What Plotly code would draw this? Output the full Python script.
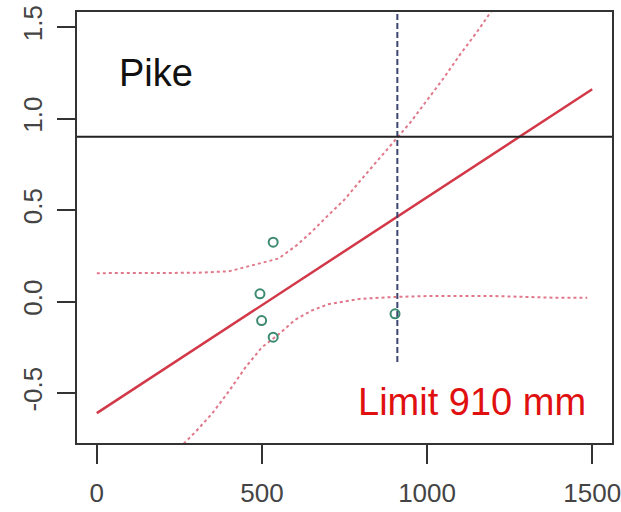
import plotly.graph_objects as go

# ---- data ----
fit_x = [0, 1500]
fit_y = [-0.61, 1.16]

upper_x = [0, 100, 200, 300, 400, 450, 500, 550, 600, 650, 700, 750, 800, 850, 900, 950, 1000, 1050, 1100, 1150, 1200]
upper_y = [0.155, 0.155, 0.155, 0.157, 0.165, 0.188, 0.21, 0.235, 0.30, 0.38, 0.47, 0.557, 0.665, 0.77, 0.87, 0.98, 1.10, 1.22, 1.35, 1.47, 1.60]

lower_x = [250, 300, 350, 400, 450, 500, 550, 600, 650, 700, 750, 800, 900, 1000, 1100, 1200, 1300, 1400, 1485]
lower_y = [-0.80, -0.71, -0.61, -0.49, -0.36, -0.25, -0.18, -0.10, -0.05, -0.015, 0.0, 0.015, 0.025, 0.03, 0.03, 0.03, 0.025, 0.02, 0.02]

obs_x = [534, 494, 499, 534, 903]
obs_y = [0.324, 0.042, -0.104, -0.195, -0.067]

threshold = 0.9
limit_mm = 910
limit_y = [-0.33, 1.6]

x_ticks = [0, 500, 1000, 1500]
x_ticklabels = ["0", "500", "1000", "1500"]
y_ticks = [-0.5, 0.0, 0.5, 1.0, 1.5]
y_ticklabels = ["-0.5", "0.0", "0.5", "1.0", "1.5"]

species = "Pike"
limit_label = "Limit 910 mm"

fig = go.Figure()

fig.add_trace(go.Scatter(x=upper_x, y=upper_y, mode="lines",
                         line=dict(color="#e0788a", width=2, dash="dot"), hoverinfo="skip"))
fig.add_trace(go.Scatter(x=lower_x, y=lower_y, mode="lines",
                         line=dict(color="#e0788a", width=2, dash="dot"), hoverinfo="skip"))
fig.add_trace(go.Scatter(x=fit_x, y=fit_y, mode="lines",
                         line=dict(color="#d23848", width=2.5)))
fig.add_trace(go.Scatter(x=[limit_mm, limit_mm], y=limit_y, mode="lines",
                         line=dict(color="#3c4470", width=2, dash="6px,3px")))
fig.add_trace(go.Scatter(x=obs_x, y=obs_y, mode="markers",
                         marker=dict(symbol="circle-open", size=9, color="#3d8a72",
                                     line=dict(width=2, color="#3d8a72"))))

fig.add_hline(y=threshold, line=dict(color="#222222", width=2))

fig.add_annotation(x=61, y=1.25, xref="x", yref="y", text=species, showarrow=False,
                   xanchor="left", yanchor="middle",
                   font=dict(family="Liberation Sans, Arial, sans-serif", size=38, color="#111111"))
fig.add_annotation(x=1488, y=-0.55, xref="x", yref="y", text=limit_label, showarrow=False,
                   xanchor="right", yanchor="middle",
                   font=dict(family="Liberation Sans, Arial, sans-serif", size=38, color="#e01010"))

axis_font = dict(family="Liberation Sans, Arial, sans-serif", size=26, color="#444444")

fig.update_xaxes(range=[-60, 1560], tickmode="array", tickvals=x_ticks, ticktext=x_ticklabels,
                 ticks="outside", ticklen=19, tickwidth=2, tickcolor="#333333",
                 showline=True, linewidth=2, linecolor="#333333", mirror=True, automargin=False,
                 ticklabeloverflow="allow",
                 showgrid=False, zeroline=False, tickfont=axis_font, ticklabelstandoff=7)
fig.update_yaxes(range=[-0.773, 1.582], tickmode="array", tickvals=y_ticks, ticktext=y_ticklabels,
                 ticks="outside", ticklen=18, tickwidth=2, tickcolor="#333333", tickangle=-90,
                 showline=True, linewidth=2, linecolor="#333333", mirror=True, automargin=False,
                 ticklabeloverflow="allow",
                 showgrid=False, zeroline=False, tickfont=axis_font, ticklabelstandoff=5)

fig.update_layout(width=621, height=512, margin=dict(l=77, r=9, t=12, b=69, autoexpand=False),
                  plot_bgcolor="white", paper_bgcolor="white", showlegend=False)

fig.write_html("out.html")
